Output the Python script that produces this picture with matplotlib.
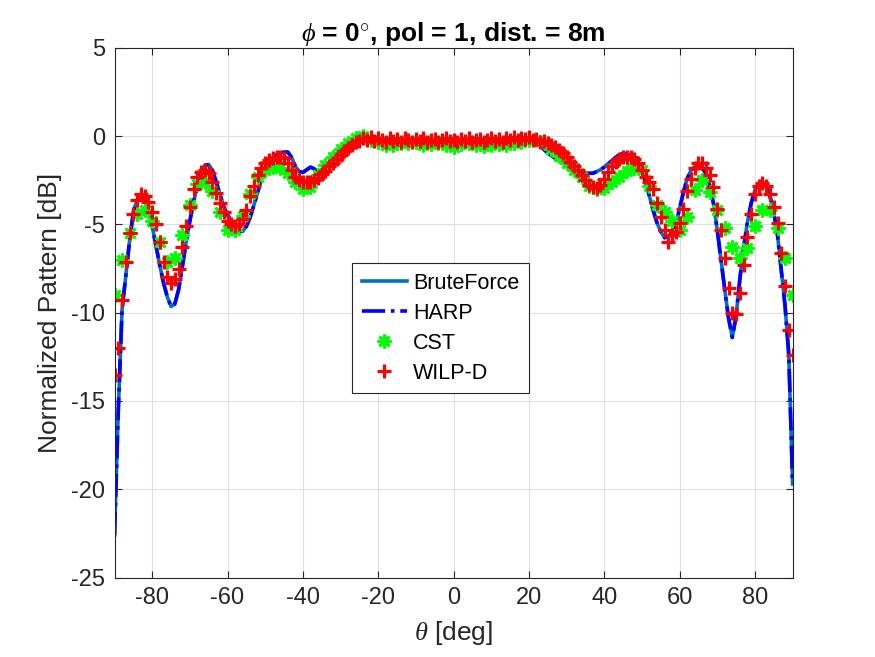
#!/usr/bin/env python
import numpy as np
import matplotlib
matplotlib.use('Agg')
import matplotlib.pyplot as plt

plt.rcParams['font.family'] = ['Liberation Sans', 'DejaVu Sans']
plt.rcParams['mathtext.fontset'] = 'custom'
plt.rcParams['mathtext.it'] = 'Liberation Serif:italic'
plt.rcParams['mathtext.rm'] = 'Liberation Sans'
plt.rcParams['axes.unicode_minus'] = False

#BEGIN DATA
# line samples, 1 deg steps from -90 to 90
theta_line = np.arange(-90, 91, 1)
brute = [-22.6, -15.5, -9.8, -7.9, -5.9, -4.3, -3.6, -3.45, -3.6, -4.2,
         -5.1, -6.2, -7.3, -8.3, -9.1, -9.65, -9.5, -8.7, -7.4, -6.0,
         -4.8, -3.7, -2.8, -2.0, -1.65, -1.6, -1.95, -2.6, -3.3, -4.0,
         -4.45, -4.85, -5.15, -5.35, -5.4, -5.1, -4.6, -3.9, -3.2, -2.3,
         -1.8, -1.4, -1.2, -1.05, -0.95, -0.9, -0.9, -1.2, -1.7, -2.0,
         -2.05, -1.9, -1.75, -1.85, -2.05, -1.9, -1.65, -1.45, -1.2, -1.0,
         -0.8, -0.6, -0.45, -0.3, -0.2, -0.15, -0.1, -0.1, -0.15, -0.2,
         -0.2, -0.15, -0.2, -0.25, -0.2, -0.15, -0.2, -0.25, -0.2, -0.15,
         -0.2, -0.25, -0.2, -0.15, -0.2, -0.25, -0.2, -0.15, -0.2, -0.25,
         -0.2, -0.25, -0.2, -0.15, -0.2, -0.25, -0.2, -0.15, -0.2, -0.25,
         -0.2, -0.15, -0.2, -0.25, -0.2, -0.15, -0.1, -0.1, -0.15, -0.2,
         -0.2, -0.25, -0.35, -0.55, -0.75, -0.95, -1.1, -1.25, -1.35, -1.5,
         -1.65, -1.85, -1.95, -2.0, -2.05, -2.1, -2.1, -2.1, -2.0, -1.9,
         -1.75, -1.55, -1.4, -1.2, -1.05, -1.0, -0.98, -1.1, -1.25, -1.55,
         -2.0, -2.6, -3.4, -4.2, -4.9, -5.4, -5.75, -5.7, -5.45, -5.0,
         -4.1, -3.2, -2.4, -1.95, -1.75, -1.7, -1.8, -2.1, -2.8, -3.8,
         -5.3, -7.0, -8.7, -10.3, -11.4, -10.2, -8.1, -6.3, -4.9, -3.8,
         -3.05, -2.7, -2.6, -2.8, -3.4, -4.3, -5.6, -7.6, -9.6, -12.4,
         -19.7]
harp = list(brute)

# WILP-D, 1 deg steps
theta_wilp = np.arange(-90, 91, 1)
wilp = [-13.5, -12.0, -9.3, -7.1, -5.5, -4.4, -3.6, -3.3, -3.4, -3.7,
        -4.3, -5.0, -6.0, -7.1, -8.0, -8.3, -8.1, -7.5, -6.3, -5.1,
        -4.0, -3.0, -2.3, -2.0, -1.9, -2.1, -2.6, -3.2, -3.8, -4.3,
        -4.8, -5.0, -5.1, -5.0, -4.7, -4.2, -3.4, -2.8, -2.2, -1.8,
        -1.5, -1.35, -1.25, -1.2, -1.2, -1.25, -1.5, -1.9, -2.3, -2.5,
        -2.6, -2.6, -2.6, -2.5, -2.35, -2.15, -1.95, -1.7, -1.5, -1.3,
        -1.05, -0.85, -0.65, -0.5, -0.35, -0.25, -0.1, -0.2, -0.05, -0.25,
        -0.1, -0.2, -0.3, -0.1, -0.25, -0.15, -0.3, -0.1, -0.2, -0.35,
        -0.15, -0.25, -0.1, -0.3, -0.2, -0.15, -0.3, -0.2, -0.1, -0.25,
        -0.2, -0.35, -0.15, -0.25, -0.1, -0.3, -0.2, -0.15, -0.3, -0.2,
        -0.1, -0.25, -0.15, -0.3, -0.1, -0.2, -0.05, -0.2, -0.1, -0.15,
        -0.05, -0.2, -0.15, -0.3, -0.25, -0.4, -0.5, -0.6, -0.8, -0.95,
        -1.2, -1.45, -1.7, -1.9, -2.2, -2.5, -2.75, -2.9, -2.95, -2.75,
        -2.4, -2.0, -1.7, -1.45, -1.3, -1.2, -1.15, -1.2, -1.3, -1.5,
        -1.9, -2.3, -2.6, -3.0, -3.8, -4.6, -5.3, -6.0, -5.6, -5.4,
        -4.9, -4.1, -3.1, -2.4, -1.8, -1.5, -1.5, -1.8, -2.2, -2.9,
        -4.1, -5.3, -6.9, -8.6, -10.0, -10.1, -8.9, -7.3, -5.7, -4.4,
        -3.3, -2.8, -2.65, -2.8, -3.3, -4.0, -4.9, -6.6, -8.5, -11.0,
        -12.4]

# CST, 2 deg steps
theta_cst = np.arange(-90, 91, 2)
cst = [-9.0, -7.0, -5.5, -4.4, -4.2, -4.8, -6.0, -7.1, -6.9, -5.6,
       -3.9, -2.7, -2.6, -3.1, -4.3, -5.3, -5.3, -4.5, -3.3, -2.3,
       -1.9, -1.75, -1.8, -2.1, -2.6, -3.0, -2.9, -2.2, -1.65, -1.15,
       -0.75, -0.4, -0.1, 0.0, -0.2, -0.3, -0.5, -0.5, -0.4, -0.4,
       -0.35, -0.5, -0.45, -0.4, -0.5, -0.6, -0.45, -0.4, -0.5, -0.55,
       -0.5, -0.45, -0.5, -0.4, -0.3, -0.2, -0.2, -0.35, -0.7, -1.1,
       -1.5, -1.9, -2.3, -2.8, -3.0, -2.95, -2.6, -2.3, -1.95, -1.8,
       -1.9, -2.8, -3.9, -4.3, -4.8, -5.3, -4.55, -3.05, -2.5, -3.15,
       -4.2, -5.2, -6.25, -6.9, -6.35, -5.1, -4.2, -4.2, -5.2, -6.9,
       -9.0]

xticks = [-80, -60, -40, -20, 0, 20, 40, 60, 80]
yticks = [-25, -20, -15, -10, -5, 0, 5]
#END DATA

axcol = '#262626'
fig = plt.figure(figsize=(8.75, 6.57), dpi=100)
ax = fig.add_axes([0.1309, 0.121, 0.7749, 0.806])

ax.plot(theta_line, brute, color=(0, 0.447, 0.741), linewidth=2.6, label='BruteForce')
ax.plot(theta_line, harp, color=(0, 0, 1), linewidth=2.6, linestyle='-.', label='HARP')
ax.plot(theta_cst, cst, linestyle='none', marker=(8, 2, 0), markersize=10,
        markeredgewidth=2.0, color=(0, 1, 0), label='CST')
ax.plot(theta_wilp, wilp, linestyle='none', marker='+', markersize=10,
        markeredgewidth=2.3, color=(1, 0, 0), label='WILP-D')

ax.set_xlim(-90, 90)
ax.set_ylim(-25, 5)
ax.set_xticks(xticks)
ax.set_yticks(yticks)
ax.grid(True, color='#dfdfdf', linewidth=0.8)
ax.set_axisbelow(True)
ax.tick_params(direction='in', top=True, right=True, length=5, width=0.8,
               colors=axcol, labelsize=17, labelcolor=axcol, pad=7)
for sp in ax.spines.values():
    sp.set_color(axcol)
    sp.set_linewidth(0.8)

ax.set_xlabel(r'$\theta$ [deg]', fontsize=19, color=axcol, labelpad=7)
ax.set_ylabel('Normalized Pattern [dB]', fontsize=19, color=axcol, labelpad=6)
ax.set_title(r'$\phi$ = 0$^{\circ}$, pol = 1, dist. = 8m', fontsize=19,
             fontweight='bold', color='black', pad=5)

leg = ax.legend(loc='upper left', bbox_to_anchor=(0.350, 0.594), fontsize=15.5,
                fancybox=False, framealpha=1, edgecolor=axcol, handlelength=2.1,
                borderpad=0.45, labelspacing=0.42, handletextpad=0.3,
                borderaxespad=0)
leg.get_frame().set_linewidth(0.8)

fig.savefig('out.png', dpi=100)
